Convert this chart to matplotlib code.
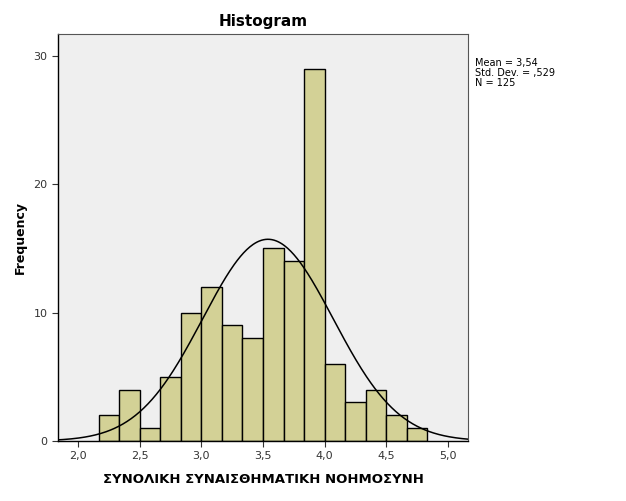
import numpy as np
import matplotlib.pyplot as plt

# histogram bins (width 1/6) and counts
bin_edges = 13 / 6 + np.arange(17) / 6
counts = [2, 4, 1, 5, 10, 12, 9, 8, 15, 14, 29, 6, 3, 4, 2, 1]
mean, sd, n = 3.54, 0.529, 125

x_ticks = [2.0, 2.5, 3.0, 3.5, 4.0, 4.5, 5.0]
y_ticks = [0, 10, 20, 30]

fig = plt.figure(figsize=(6.26, 5.01), dpi=100)
ax = fig.add_axes([58 / 626, 60 / 501, 410 / 626, 407 / 501])
ax.set_facecolor('#efefef')

widths = np.diff(bin_edges)
ax.bar(bin_edges[:-1], counts, width=widths, align='edge',
       color='#d3d196', edgecolor='black', linewidth=1.0, zorder=2)

# normal curve scaled to counts
xs = np.linspace(1.8, 5.2, 400)
bw = widths[0]
ys = n * bw / (sd * np.sqrt(2 * np.pi)) * np.exp(-0.5 * ((xs - mean) / sd) ** 2)
ax.plot(xs, ys, color='black', linewidth=1.1, zorder=3)

ax.set_xlim(1.837, 5.163)
ax.set_ylim(0, 31.7)
ax.set_xticks(x_ticks)
ax.set_xticklabels([f'{v:.1f}'.replace('.', ',') for v in x_ticks])
ax.set_yticks(y_ticks)
ax.tick_params(direction='out', length=4, width=0.8, labelsize=8,
               labelcolor='#333333', color='#333333')

for s in ['left', 'bottom']:
    ax.spines[s].set_color('black')
    ax.spines[s].set_linewidth(1.0)
for s in ['top', 'right']:
    ax.spines[s].set_color('#555555')
    ax.spines[s].set_linewidth(0.8)

ax.set_title('Histogram', fontsize=11, fontweight='bold', pad=6)
ax.set_xlabel('ΣΥΝΟΛΙΚΗ ΣΥΝΑΙΣΘΗΜΑΤΙΚΗ ΝΟΗΜΟΣΥΝΗ', fontsize=9.5,
              fontweight='bold', labelpad=8)
ax.set_ylabel('Frequency', fontsize=9, fontweight='bold', labelpad=5)

fig.text(475 / 626, 1 - 58 / 501,
         'Mean = 3,54\nStd. Dev. = ,529\nN = 125',
         fontsize=7, va='top', ha='left', linespacing=1.0)

fig.savefig('out.png', dpi=100)
